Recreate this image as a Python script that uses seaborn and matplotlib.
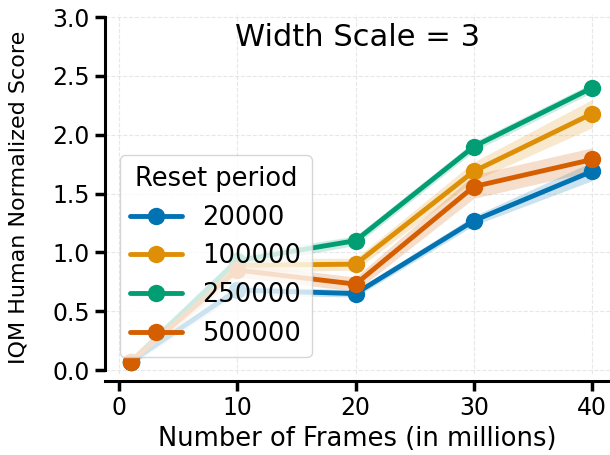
import numpy as np
import pandas as pd
import matplotlib
matplotlib.use("Agg")
import matplotlib.pyplot as plt
import seaborn as sns

frames = [1, 10, 20, 30, 40]
periods = ["20000", "100000", "250000", "500000"]
score_20000 = [0.07, 0.68, 0.65, 1.27, 1.69]
score_100000 = [0.07, 0.89, 0.90, 1.69, 2.18]
score_250000 = [0.07, 0.93, 1.10, 1.90, 2.40]
score_500000 = [0.07, 0.85, 0.73, 1.56, 1.79]
err_20000 = [0.03, 0.04, 0.03, 0.04, 0.08]
err_100000 = [0.03, 0.06, 0.05, 0.08, 0.12]
err_250000 = [0.03, 0.05, 0.04, 0.04, 0.04]
err_500000 = [0.03, 0.06, 0.06, 0.10, 0.10]

scores = [score_20000, score_100000, score_250000, score_500000]
errs = [err_20000, err_100000, err_250000, err_500000]

rows = []
for p, s in zip(periods, scores):
    for f, v in zip(frames, s):
        rows.append({"frames": f, "score": v, "Reset period": p})
df = pd.DataFrame(rows)

sns.set_style("white")
plt.rcParams["font.family"] = ["DejaVu Sans"]
plt.rcParams["text.color"] = "black"
plt.rcParams["axes.labelcolor"] = "black"
plt.rcParams["xtick.color"] = "black"
plt.rcParams["ytick.color"] = "black"
palette = sns.color_palette("colorblind", 4)

fig = plt.figure(figsize=(6.1, 4.55), dpi=100)
ax = fig.add_axes([0.172, 0.179, 0.828, 0.791])

for p, s, e, c in zip(periods, scores, errs, palette):
    s = np.array(s); e = np.array(e)
    ax.fill_between(frames, s - e, s + e, color=c, alpha=0.2, linewidth=0)

sns.lineplot(data=df, x="frames", y="score", hue="Reset period", palette=palette,
             marker="o", markersize=12.5, linewidth=3.5, markeredgewidth=0, ax=ax)

ax.set_xlim(-1.18, 41.5)
ax.set_ylim(-0.03, 3.03)
ax.set_xticks([0, 10, 20, 30, 40])
ax.set_yticks([0.0, 0.5, 1.0, 1.5, 2.0, 2.5, 3.0])
ax.set_yticklabels(["0.0", "0.5", "1.0", "1.5", "2.0", "2.5", "3.0"])
ax.grid(True, linestyle="--", color="#dddddd", linewidth=0.8, alpha=0.7)

ax.spines["top"].set_visible(False)
ax.spines["right"].set_visible(False)
ax.spines["left"].set_bounds(0, 3)
ax.spines["bottom"].set_position(("outward", 5.5))
for sp in ["left", "bottom"]:
    ax.spines[sp].set_linewidth(2.2)
    ax.spines[sp].set_color("black")
ax.tick_params(axis="both", labelsize=17, length=7, width=2.5, color="black", direction="out",
               left=True, bottom=True, pad=4)

ax.set_xlabel("Number of Frames (in millions)", fontsize=18.5)
ax.set_ylabel("IQM Human Normalized Score", fontsize=16)
ax.yaxis.set_label_coords(-0.152, 0.49)
ax.text(0.5, 0.975, "Width Scale = 3", transform=ax.transAxes, ha="center", va="top", fontsize=22)

leg = ax.legend(title="Reset period", loc="lower left", bbox_to_anchor=(0.03, 0.045),
                borderaxespad=0, fontsize=18.5, title_fontsize=18.5, framealpha=0.8,
                handlelength=2.0)

fig.savefig("out.png", dpi=100)
